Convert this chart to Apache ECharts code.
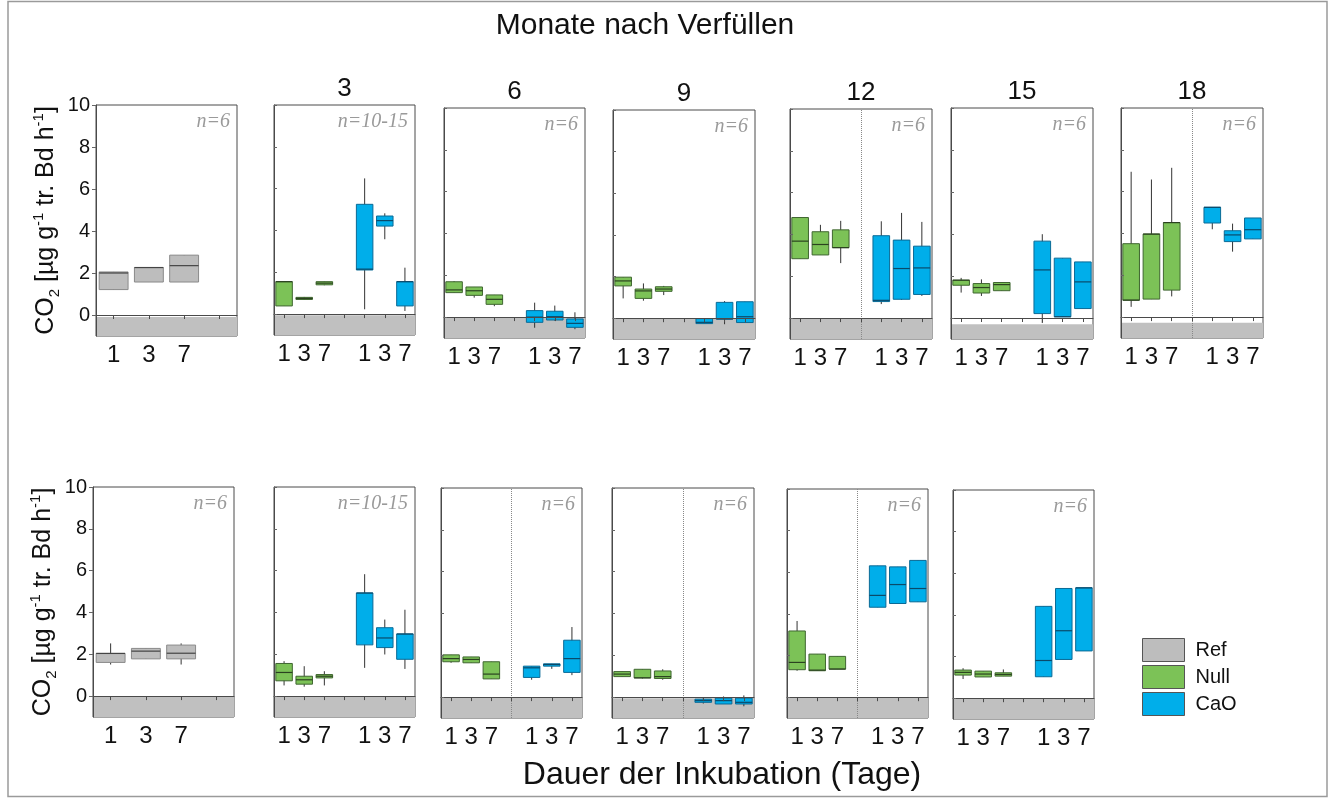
<!DOCTYPE html>
<html>
<head>
<meta charset="utf-8">
<script src="https://cdn.jsdelivr.net/npm/echarts@6/dist/echarts.min.js"></script>
<style>
  html, body { margin: 0; padding: 0; background: #fff; }
  #chart { width: 1335px; height: 800px; }
</style>
</head>
<body>
<div id="chart"></div>
<script>
// ---- categories and labels ----
const refDays = ['1', '3', '7', ''];
const treatDays = ['1', '3', '7', '', '1', '3', '7'];
const monthLabels = ['3', '6', '9', '12', '15', '18'];
const sampleTop = ['n=6', 'n=10-15', 'n=6', 'n=6', 'n=6', 'n=6', 'n=6'];
const sampleBottom = ['n=6', 'n=10-15', 'n=6', 'n=6', 'n=6', 'n=6'];
const legendNames = ['Ref', 'Null', 'CaO'];

// ---- CO2 release, boxes as [min, Q1, median, Q3, max] for days 1, 3, 7 ----
// upper row
const topRef = [[1.21, 1.21, 2.00, 2.05, 2.05], [1.57, 1.57, 2.26, 2.26, 2.26], [1.57, 1.57, 2.35, 2.85, 2.85]];
const topM3Null = [[0.39, 0.39, 1.55, 1.55, 1.55], [0.68, 0.70, 0.75, 0.80, 0.82], [1.38, 1.40, 1.48, 1.55, 1.55]];
const topM3CaO = [[0.23, 2.11, 2.15, 5.25, 6.49], [3.58, 4.21, 4.47, 4.69, 4.82], [0.15, 0.39, 1.55, 1.55, 2.22]];
const topM6Null = [[1.17, 1.17, 1.30, 1.69, 1.72], [0.93, 1.04, 1.26, 1.44, 1.44], [0.52, 0.61, 0.85, 1.06, 1.06]];
const topM6CaO = [[-0.51, -0.25, 0.00, 0.31, 0.69], [-0.17, -0.14, 0.02, 0.28, 0.55], [-0.58, -0.49, -0.30, -0.09, 0.23]];
const topM9Null = [[0.95, 1.55, 1.79, 1.97, 1.97], [0.84, 0.95, 1.31, 1.40, 1.67], [1.11, 1.29, 1.40, 1.51, 1.55]];
const topM9CaO = [[-0.26, -0.26, -0.20, -0.02, -0.02], [-0.29, -0.04, -0.04, 0.76, 0.82], [-0.21, -0.21, 0.07, 0.79, 0.79]];
const topM12Null = [[2.84, 2.84, 3.68, 4.81, 4.81], [3.02, 3.02, 3.52, 4.13, 4.46], [2.63, 3.37, 3.37, 4.22, 4.65]];
const topM12CaO = [[0.67, 0.79, 0.85, 3.94, 4.63], [0.87, 0.90, 2.37, 3.73, 5.03], [1.06, 1.13, 2.40, 3.44, 4.60]];
const topM15Null = [[1.21, 1.56, 1.80, 1.80, 1.91], [1.05, 1.19, 1.45, 1.64, 1.84], [1.30, 1.30, 1.59, 1.69, 1.69]];
const topM15CaO = [[-0.24, 0.21, 2.29, 3.66, 3.99], [0.06, 0.06, 0.06, 2.85, 2.85], [0.45, 0.45, 1.72, 2.67, 2.67]];
const topM18Null = [[0.49, 0.81, 0.81, 3.51, 6.95], [0.86, 0.86, 3.97, 3.97, 6.58], [0.99, 1.29, 4.52, 4.52, 7.14]];
const topM18CaO = [[4.20, 4.50, 5.25, 5.25, 5.25], [3.13, 3.61, 3.93, 4.13, 4.47], [3.74, 3.74, 4.18, 4.74, 4.74]];
// lower row
const bottomRef = [[1.51, 1.61, 2.04, 2.04, 2.52], [1.78, 1.78, 2.15, 2.28, 2.28], [1.51, 1.78, 2.05, 2.44, 2.52]];
const bottomM3Null = [[0.51, 0.73, 1.13, 1.56, 1.67], [0.45, 0.57, 0.78, 0.95, 1.43], [0.51, 0.87, 0.95, 1.03, 1.19]];
const bottomM3CaO = [[1.35, 2.45, 4.93, 4.93, 5.83], [1.99, 2.32, 2.78, 3.27, 3.66], [1.30, 1.76, 2.97, 2.97, 4.13]];
const bottomM6Null = [[1.64, 1.69, 1.84, 2.02, 2.02], [1.64, 1.64, 1.80, 1.92, 1.92], [0.87, 0.87, 1.10, 1.69, 1.69]];
const bottomM6CaO = [[0.83, 0.94, 1.40, 1.48, 1.48], [1.35, 1.48, 1.56, 1.59, 1.59], [1.05, 1.18, 1.84, 2.72, 3.35]];
const bottomM9Null = [[0.98, 0.98, 1.10, 1.22, 1.22], [0.89, 0.92, 0.92, 1.33, 1.33], [0.83, 0.89, 0.98, 1.25, 1.33]];
const bottomM9CaO = [[-0.31, -0.25, -0.17, -0.10, -0.03], [-0.33, -0.33, -0.17, -0.05, 0.03], [-0.44, -0.33, -0.25, -0.05, 0.08]];
const bottomM12Null = [[1.27, 1.32, 1.67, 3.18, 3.66], [1.27, 1.27, 1.30, 2.07, 2.07], [1.35, 1.35, 1.35, 1.96, 1.96]];
const bottomM12CaO = [[4.32, 4.32, 4.89, 6.31, 6.31], [4.50, 4.50, 5.41, 6.26, 6.26], [4.58, 4.58, 5.22, 6.57, 6.57]];
const bottomM15Null = [[0.92, 1.11, 1.24, 1.35, 1.44], [1.02, 1.02, 1.16, 1.30, 1.30], [1.06, 1.06, 1.14, 1.22, 1.38]];
const bottomM15CaO = [[1.03, 1.03, 1.81, 4.41, 4.41], [1.86, 1.86, 3.24, 5.27, 5.27], [2.27, 2.27, 5.30, 5.30, 5.30]];

// upper edge of the grey zero band in each panel
const zeroBandTop = [-0.1, -0.05, 0, 0, 0, -0.3, -0.27];
const zeroBandBottom = [-0.03, 0, 0, -0.05, -0.03, 0];

// ---- styling ----
const FONT = '"Liberation Sans", Arial, sans-serif';
const COL = {
  Ref: { fill: '#bdbdbd', line: '#8a8a8a', median: '#444' },
  Null: { fill: '#7cc257', line: '#3f6630', median: '#2b4220' },
  CaO: { fill: '#00aeea', line: '#0a6a96', median: '#0a4a6a' }
};
const WHISKER = '#333';
const BAND = '#c0c0c0';

// panel frames [left, top, width, height]
const topFrames = [[96, 105, 141, 231], [274, 105, 141, 230], [444, 108, 141, 230], [613, 110, 142, 229],
                   [790, 109, 142, 230], [951, 108, 142, 231], [1121, 108, 142, 230]];
const bottomFrames = [[93, 487, 141, 230], [274, 487, 141, 230], [441, 488, 141, 230], [612, 488, 142, 230],
                      [787, 489, 141, 229], [953, 490, 141, 229]];
const dividedTop = [false, false, false, false, true, false, true];
const dividedBottom = [false, false, true, true, true, false];

const panels = [
  { frame: topFrames[0], isRef: true, boxes: [topRef], band: zeroBandTop[0], n: sampleTop[0], divider: dividedTop[0] },
  { frame: topFrames[1], boxes: [topM3Null, topM3CaO], band: zeroBandTop[1], n: sampleTop[1], divider: dividedTop[1], month: monthLabels[0] },
  { frame: topFrames[2], boxes: [topM6Null, topM6CaO], band: zeroBandTop[2], n: sampleTop[2], divider: dividedTop[2], month: monthLabels[1] },
  { frame: topFrames[3], boxes: [topM9Null, topM9CaO], band: zeroBandTop[3], n: sampleTop[3], divider: dividedTop[3], month: monthLabels[2] },
  { frame: topFrames[4], boxes: [topM12Null, topM12CaO], band: zeroBandTop[4], n: sampleTop[4], divider: dividedTop[4], month: monthLabels[3] },
  { frame: topFrames[5], boxes: [topM15Null, topM15CaO], band: zeroBandTop[5], n: sampleTop[5], divider: dividedTop[5], month: monthLabels[4] },
  { frame: topFrames[6], boxes: [topM18Null, topM18CaO], band: zeroBandTop[6], n: sampleTop[6], divider: dividedTop[6], month: monthLabels[5] },
  { frame: bottomFrames[0], isRef: true, boxes: [bottomRef], band: zeroBandBottom[0], n: sampleBottom[0], divider: dividedBottom[0] },
  { frame: bottomFrames[1], boxes: [bottomM3Null, bottomM3CaO], band: zeroBandBottom[1], n: sampleBottom[1], divider: dividedBottom[1] },
  { frame: bottomFrames[2], boxes: [bottomM6Null, bottomM6CaO], band: zeroBandBottom[2], n: sampleBottom[2], divider: dividedBottom[2] },
  { frame: bottomFrames[3], boxes: [bottomM9Null, bottomM9CaO], band: zeroBandBottom[3], n: sampleBottom[3], divider: dividedBottom[3] },
  { frame: bottomFrames[4], boxes: [bottomM12Null, bottomM12CaO], band: zeroBandBottom[4], n: sampleBottom[4], divider: dividedBottom[4] },
  { frame: bottomFrames[5], boxes: [bottomM15Null, bottomM15CaO], band: zeroBandBottom[5], n: sampleBottom[5], divider: dividedBottom[5] }
];

const yTicks = [0, 2, 4, 6, 8, 10];

// box-and-whisker glyph: plain whiskers (no caps), filled box, median bar
function makeRenderer(isRef) {
  return function (params, api) {
    const cat = api.value(0);
    const kind = isRef ? 'Ref' : (cat < 3 ? 'Null' : 'CaO');
    const c = COL[kind];
    const half = api.size([1, 0])[0] * 0.41;
    const pMin = api.coord([cat, api.value(1)]);
    const pQ1 = api.coord([cat, api.value(2)]);
    const pMed = api.coord([cat, api.value(3)]);
    const pQ3 = api.coord([cat, api.value(4)]);
    const pMax = api.coord([cat, api.value(5)]);
    const x = pMed[0];
    return {
      type: 'group',
      children: [
        { type: 'line', shape: { x1: x, y1: pMax[1], x2: x, y2: pMin[1] }, style: { stroke: WHISKER, lineWidth: 1 } },
        { type: 'rect', shape: { x: x - half, y: pQ3[1], width: half * 2, height: Math.max(pQ1[1] - pQ3[1], 1) },
          style: { fill: c.fill, stroke: c.line, lineWidth: 1 } },
        { type: 'line', shape: { x1: x - half, y1: pMed[1], x2: x + half, y2: pMed[1] }, style: { stroke: c.median, lineWidth: 1.2 } }
      ]
    };
  };
}

const grids = [], xAxes = [], yAxes = [], series = [], graphics = [];

panels.forEach((p, i) => {
  const [l, t, w, h] = p.frame;
  grids.push({ left: l, top: t, width: w, height: h, show: true, borderColor: '#4a4a4a', borderWidth: 1, backgroundColor: 'transparent' });

  xAxes.push({
    type: 'category', gridIndex: i, data: p.isRef ? refDays : treatDays, z: 5,
    axisLine: { show: true, lineStyle: { color: '#4a4a4a', width: 1 } },
    axisTick: { show: true, alignWithLabel: true, length: 4, lineStyle: { color: '#4a4a4a' } },
    axisLabel: { interval: 0, fontSize: 24, fontFamily: FONT, color: '#111', margin: 7 },
    splitLine: { show: false }
  });

  const yAxis = {
    type: 'value', gridIndex: i, min: -1, max: 10, z: 5,
    axisLine: { show: true, lineStyle: { color: '#4a4a4a', width: 1 } },
    axisTick: { show: true, customValues: yTicks, inside: !p.isRef, length: p.isRef ? 4 : 3, lineStyle: { color: '#666' } },
    axisLabel: { show: !!p.isRef, customValues: yTicks, fontSize: 20, fontFamily: FONT, color: '#111', margin: 6 },
    splitLine: { show: false }
  };
  if (p.isRef) {
    yAxis.name = '{b|CO}{sub|2}{b| [µg g}{sup|-1}{b| tr. Bd h}{sup|-1}{b|]}';
    yAxis.nameLocation = 'middle';
    yAxis.nameRotate = 90;
    yAxis.nameGap = 34;
    yAxis.nameTextStyle = {
      rich: {
        b: { fontSize: 25, fontFamily: FONT, color: '#111', lineHeight: 31 },
        sub: { fontSize: 15, fontFamily: FONT, color: '#111', lineHeight: 15, verticalAlign: 'bottom' },
        sup: { fontSize: 15, fontFamily: FONT, color: '#111', lineHeight: 15, verticalAlign: 'top' }
      }
    };
  }
  yAxes.push(yAxis);

  // [category index, min, Q1, median, Q3, max]
  let data;
  if (p.isRef) {
    data = p.boxes[0].map((b, k) => [k].concat(b));
  } else {
    data = p.boxes[0].map((b, k) => [k].concat(b))
      .concat(p.boxes[1].map((b, k) => [k + 4].concat(b)));
  }

  const s = {
    type: 'custom', xAxisIndex: i, yAxisIndex: i,
    renderItem: makeRenderer(!!p.isRef),
    encode: { x: 0, y: [1, 2, 3, 4, 5] },
    silent: true,
    data: data,
    markArea: {
      silent: true,
      itemStyle: { color: BAND },
      data: [[{ yAxis: -1 }, { yAxis: p.band }]]
    }
  };
  if (p.divider) {
    s.markLine = {
      silent: true, symbol: 'none', label: { show: false },
      lineStyle: { type: 'dotted', color: '#888', width: 1 },
      data: [{ xAxis: 3 }]
    };
  }
  series.push(s);

  // sample size note
  graphics.push({
    type: 'text', x: l + w - 7, y: t + 17,
    style: { text: p.n, fontSize: 20, fontStyle: 'italic', fontFamily: '"Liberation Serif", "Times New Roman", serif',
             fill: '#9a9a9a', textAlign: 'right', textVerticalAlign: 'middle' }
  });
  if (p.month) {
    graphics.push({
      type: 'text', x: l + w / 2, y: t - 16,
      style: { text: p.month, fontSize: 26, fontFamily: FONT, fill: '#111', textAlign: 'center', textVerticalAlign: 'middle' }
    });
  }
});

// legend entries carried by empty series
legendNames.forEach(name => {
  series.push({ type: 'bar', name: name, xAxisIndex: 0, yAxisIndex: 0, data: [], itemStyle: { color: COL[name].fill } });
});

graphics.push(
  { type: 'rect', shape: { x: 8, y: 1.5, width: 1319, height: 795 }, style: { fill: 'none', stroke: '#9a9a9a', lineWidth: 1.5 }, silent: true, z: -1 },
  { type: 'text', x: 645, y: 26, style: { text: 'Monate nach Verfüllen', fontSize: 30, fontFamily: FONT, fill: '#111', textAlign: 'center', textVerticalAlign: 'middle' } },
  { type: 'text', x: 722, y: 775, style: { text: 'Dauer der Inkubation (Tage)', fontSize: 32, fontFamily: FONT, fill: '#111', textAlign: 'center', textVerticalAlign: 'middle' } }
);

const chart = echarts.init(document.getElementById('chart'), null, { renderer: 'canvas' });
chart.setOption({
  animation: false,
  backgroundColor: '#fff',
  grid: grids,
  xAxis: xAxes,
  yAxis: yAxes,
  series: series,
  legend: {
    data: legendNames,
    orient: 'vertical', left: 1137, top: 633,
    itemWidth: 42, itemHeight: 23, itemGap: 3,
    icon: 'rect', selectedMode: false,
    itemStyle: { borderColor: '#555', borderWidth: 1 },
    textStyle: { fontSize: 20, fontFamily: FONT, color: '#111', padding: [0, 0, 0, 6] }
  },
  graphic: graphics
});
</script>
</body>
</html>
